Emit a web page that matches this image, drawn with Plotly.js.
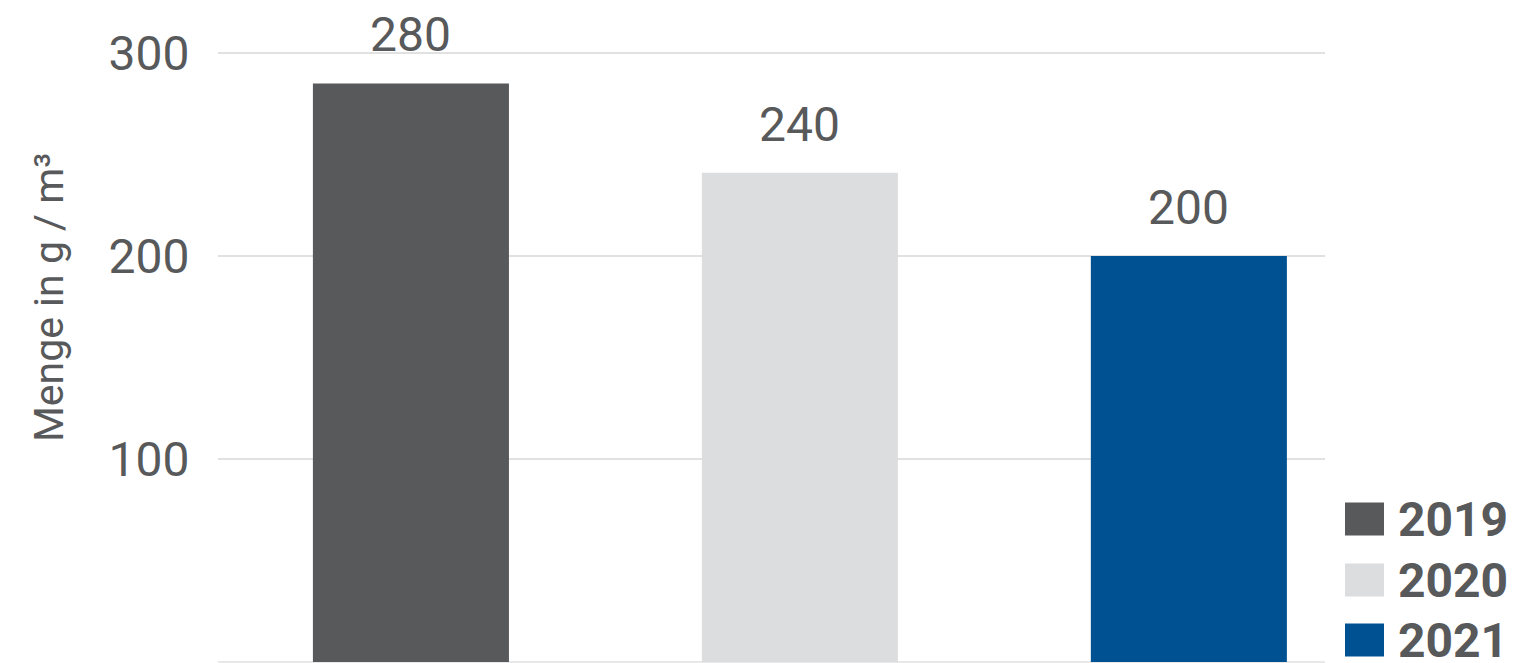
<!DOCTYPE html>
<html>
<head>
<meta charset="utf-8">
<script src="https://cdn.plot.ly/plotly-3.0.1.min.js"></script>
<style>html,body{margin:0;padding:0;background:#fff;}#chart{width:1539px;height:663px;}</style>
</head>
<body>
<div id="chart"></div>
<script>
// Data
const years = ["2019", "2020", "2021"];
const values = [285, 241, 200];          // bar heights
const valueLabels = ["280", "240", "200"]; // printed labels
const colors = ["#58595b", "#dcdddf", "#005192"];
const yTicks = [100, 200, 300];
const yTitle = "Menge in g / m³";

const textColor = "#58595b";

const traces = years.map((yr, i) => ({
  type: "bar",
  name: yr,
  x: [i],
  y: [values[i]],
  width: 0.504,
  marker: {color: colors[i]},
  hoverinfo: "skip",
  showlegend: false
}));

const annotations = years.map((yr, i) => ({
  x: i, y: values[i], xref: "x", yref: "y",
  text: valueLabels[i], showarrow: false,
  yanchor: "bottom", yshift: 18,
  font: {family: "Roboto, sans-serif", size: 48, color: textColor, weight: 400}
}));

// manual legend (large swatches)
const shapes = [];
const legRowY = [519, 580, 640]; // pixel centres
const plotTop = 0, plotH = 662, plotL = 218, plotW = 1107;
const px2x = p => (p - plotL) / plotW;
const px2y = p => (plotTop + plotH - p) / plotH;
years.forEach((yr, i) => {
  shapes.push({
    type: "rect", xref: "paper", yref: "paper",
    x0: px2x(1345), x1: px2x(1384),
    y0: px2y(legRowY[i] + 16.5), y1: px2y(legRowY[i] - 16.5),
    fillcolor: colors[i], line: {width: 0}
  });
  annotations.push({
    xref: "paper", yref: "paper", x: px2x(1396), y: px2y(legRowY[i]),
    xanchor: "left", yanchor: "middle", showarrow: false, text: yr,
    font: {family: "Roboto, sans-serif", size: 48, color: textColor, weight: 700}
  });
});

// y-axis title placed as a rotated annotation
annotations.push({
  xref: "paper", yref: "paper", x: px2x(49), y: px2y(298),
  xanchor: "center", yanchor: "middle", textangle: -90, showarrow: false,
  text: yTitle,
  font: {family: "Roboto, sans-serif", size: 41, color: textColor, weight: 400}
});

const layout = {
  width: 1539, height: 663,
  margin: {l: plotL, r: 1539 - plotL - plotW, t: plotTop, b: 1, pad: 0},
  paper_bgcolor: "#fff", plot_bgcolor: "#fff",
  barmode: "overlay",
  showlegend: false,
  xaxis: {
    range: [-0.496, 2.35], showticklabels: false, showgrid: false,
    zeroline: false, showline: false, ticks: ""
  },
  yaxis: {
    range: [0, 662 / 2.03], tickvals: yTicks, ticktext: yTicks.map(String),
    showgrid: true, gridcolor: "#e1e1e1", gridwidth: 2,
    zeroline: true, zerolinecolor: "#e8e8e8", zerolinewidth: 2,
    showline: false, ticks: "outside", ticklen: 18, tickcolor: "rgba(0,0,0,0)",
    tickfont: {family: "Roboto, sans-serif", size: 48, color: textColor, weight: 400}
  },
  shapes: shapes,
  annotations: annotations,
  font: {family: "Roboto, sans-serif", color: textColor}
};

Plotly.newPlot("chart", traces, layout, {displayModeBar: false, staticPlot: true});
</script>
</body>
</html>
